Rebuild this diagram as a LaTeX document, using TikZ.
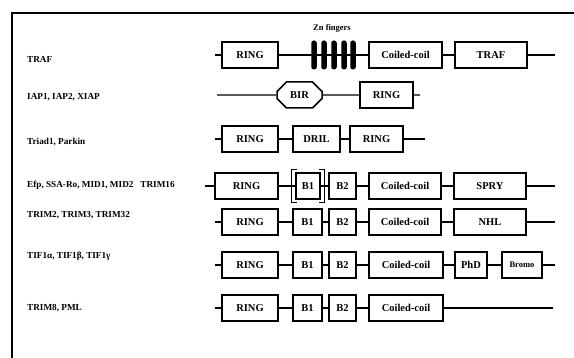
\documentclass[tikz,border=0pt]{standalone}
\usepackage{fontspec}
\setmainfont{Liberation Serif}
\usetikzlibrary{shapes.misc}
\begin{document}
\begin{tikzpicture}[x=1pt,y=-1pt,
  dom/.style={draw,line width=1.5pt,rectangle,inner sep=0pt,minimum height=26pt,font=\bfseries\fontsize{10.5}{11}\selectfont},
  oct/.style={draw,line width=1.5pt,chamfered rectangle,chamfered rectangle xsep=5pt,chamfered rectangle ysep=6pt,inner sep=0pt,minimum height=26pt,minimum width=45pt,font=\bfseries\fontsize{10.5}{11}\selectfont},
  lbl/.style={anchor=west,inner sep=0pt,font=\bfseries\fontsize{9.2}{10}\selectfont},
  bar/.style={fill=black,rectangle,rounded corners=2.5pt,minimum width=5.5pt,minimum height=29pt,inner sep=0pt},
  ln/.style={line width=1.4pt}]
\useasboundingbox (0,0) rectangle (574,358);
% frame
\draw[line width=2pt] (12,358) -- (12,13) -- (574,13);

% Row 1 TRAF
\node[lbl] (l1) at (27,59) {TRAF};
\coordinate (s1) at (215,55);
\node[dom,minimum width=56pt] (r1) at (250,55) {RING};
\node[font=\bfseries\fontsize{8.5}{9}\selectfont] (zn) at (332,28) {Zn fingers};
\foreach \i/\x in {1/314,2/324,3/334,4/344,5/353}{\node[bar] (f\i) at (\x,55) {};}
\node[dom,minimum width=73pt] (c1) at (405.5,55) {Coiled-coil};
\node[dom,minimum width=72pt] (t1) at (491,55) {TRAF};
\coordinate (e1) at (555,55);
\draw[ln] (s1) -- (r1) (r1) -- (c1) (c1) -- (t1) (t1) -- (e1);

% Row 2 IAP
\node[lbl] (l2) at (27,97) {IAP1, IAP2, XIAP};
\coordinate (s2) at (217,95);
\node[oct] (b2) at (299.5,95) {BIR};
\node[dom,minimum width=53pt] (r2) at (386.5,95) {RING};
\coordinate (e2) at (420,95);
\draw[ln] (s2) -- (b2) (b2) -- (r2) (r2) -- (e2);

% Row 3 Triad1
\node[lbl] (l3) at (27,142) {Triad1, Parkin};
\coordinate (s3) at (215,139);
\node[dom,minimum width=56pt] (r3) at (250,139) {RING};
\node[dom,minimum width=47pt] (d3) at (316.5,139) {DRIL};
\node[dom,minimum width=53pt] (q3) at (376.5,139) {RING};
\coordinate (e3) at (425,139);
\draw[ln] (s3) -- (r3) (r3) -- (d3) (d3) -- (q3) (q3) -- (e3);

% Row 4
\node[lbl] (l4) at (27,185) {Efp, SSA-Ro, MID1, MID2\ \ \ TRIM16};
\coordinate (s4) at (205,186);
\node[dom,minimum width=63pt] (r4) at (246.5,186) {RING};
\node[dom,minimum width=24pt] (a4) at (308,186) {B1};
\node[dom,minimum width=27pt] (b4) at (342.5,186) {B2};
\node[dom,minimum width=72pt] (c4) at (405,186) {Coiled-coil};
\node[dom,minimum width=72pt] (p4) at (490,186) {SPRY};
\coordinate (e4) at (555,186);
\draw[ln] (s4) -- (r4) (r4) -- (a4) (a4) -- (b4) (b4) -- (c4) (c4) -- (p4) (p4) -- (e4);
\draw[line width=1.2pt] ([xshift=2pt,yshift=3pt]a4.north west) -- ([xshift=-4pt,yshift=3pt]a4.north west) -- ([xshift=-4pt,yshift=-3pt]a4.south west) -- ([xshift=2pt,yshift=-3pt]a4.south west);
\draw[line width=1.2pt] ([xshift=-2pt,yshift=3pt]a4.north east) -- ([xshift=4pt,yshift=3pt]a4.north east) -- ([xshift=4pt,yshift=-3pt]a4.south east) -- ([xshift=-2pt,yshift=-3pt]a4.south east);

% Row 5
\node[lbl] (l5) at (27,215) {TRIM2, TRIM3, TRIM32};
\coordinate (s5) at (215,222);
\node[dom,minimum width=56pt] (r5) at (250,222) {RING};
\node[dom,minimum width=29pt] (a5) at (307.5,222) {B1};
\node[dom,minimum width=27pt] (b5) at (342.5,222) {B2};
\node[dom,minimum width=72pt] (c5) at (405,222) {Coiled-coil};
\node[dom,minimum width=72pt] (p5) at (490,222) {NHL};
\coordinate (e5) at (555,222);
\draw[ln] (s5) -- (r5) (r5) -- (a5) (a5) -- (b5) (b5) -- (c5) (c5) -- (p5) (p5) -- (e5);

% Row 6
\node[lbl] (l6) at (27,256) {TIF1α, TIF1β, TIF1γ};
\coordinate (s6) at (215,265);
\node[dom,minimum width=56pt] (r6) at (250,265) {RING};
\node[dom,minimum width=29pt] (a6) at (307.5,265) {B1};
\node[dom,minimum width=27pt] (b6) at (342.5,265) {B2};
\node[dom,minimum width=74pt] (c6) at (406,265) {Coiled-coil};
\node[dom,minimum width=32pt] (p6) at (471,265) {PhD};
\node[dom,minimum width=40pt,font=\bfseries\fontsize{8.5}{9}\selectfont] (m6) at (522,265) {Bromo};
\coordinate (e6) at (555,265);
\draw[ln] (s6) -- (r6) (r6) -- (a6) (a6) -- (b6) (b6) -- (c6) (c6) -- (p6) (p6) -- (m6) (m6) -- (e6);

% Row 7
\node[lbl] (l7) at (27,308) {TRIM8, PML};
\coordinate (s7) at (215,308);
\node[dom,minimum width=56pt] (r7) at (250,308) {RING};
\node[dom,minimum width=29pt] (a7) at (307.5,308) {B1};
\node[dom,minimum width=27pt] (b7) at (342.5,308) {B2};
\node[dom,minimum width=74pt] (c7) at (406,308) {Coiled-coil};
\coordinate (e7) at (553,308);
\draw[ln] (s7) -- (r7) (r7) -- (a7) (a7) -- (b7) (b7) -- (c7) (c7) -- (e7);
\end{tikzpicture}
\end{document}
